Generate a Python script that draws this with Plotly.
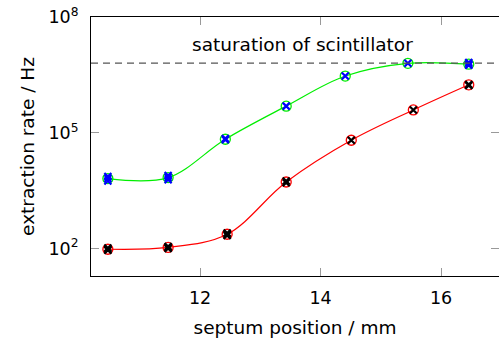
import plotly.graph_objects as go
import numpy as np

# ---- data ----
x_green = [10.47, 11.47, 12.42, 13.43, 14.41, 15.45, 16.46]
y_green = [6500, 6900, 6.8e4, 4.9e5, 2.95e6, 6.3e6, 6.0e6]

x_red = [10.47, 11.47, 12.45, 13.43, 14.51, 15.54, 16.46]
y_red = [96, 107, 235, 5300, 6.4e4, 3.9e5, 1.75e6]

x_blue_meas = [10.47, 10.47, 10.47, 11.47, 11.47, 11.47, 12.42, 12.42, 13.43, 14.41, 15.45, 16.46, 16.46, 16.46]
y_blue_meas = [5600, 6500, 7400, 6100, 6900, 7800, 6.6e4, 7.1e4, 4.9e5, 2.95e6, 6.3e6, 5.6e6, 6.0e6, 6.6e6]

x_black_meas = [10.47, 10.47, 10.47, 11.47, 11.47, 11.47, 12.45, 12.45, 12.45, 13.43, 13.43, 14.51, 15.54, 16.46, 16.46]
y_black_meas = [90, 96, 103, 101, 107, 113, 218, 234, 252, 5100, 5600, 6.4e4, 3.9e5, 1.68e6, 1.78e6]

saturation_level = 6.4e6
saturation_label = "saturation of scintillator"

x_tick_vals = [12, 14, 16]
x_tick_text = ["12", "14", "16"]
y_tick_vals = [1e2, 1e5, 1e8]
y_tick_text = ["10<sup>2</sup>", "10<sup>5</sup>", "10<sup>8</sup>"]

x_title = "septum position / mm"
y_title = "extraction rate / Hz"

# ---- figure ----
FONT = "DejaVu Sans"
fig = go.Figure()

fig.add_hline(y=saturation_level, line=dict(color="#555555", width=1.2, dash="7px,5px"))

fig.add_trace(go.Scatter(x=x_red, y=y_red, mode="lines+markers",
                         line=dict(color="#ff0000", width=1.2, shape="spline", smoothing=1),
                         marker=dict(symbol="circle-open", size=10, color="#ff0000", line=dict(width=1.3)),
                         showlegend=False))
fig.add_trace(go.Scatter(x=x_black_meas, y=y_black_meas, mode="markers",
                         marker=dict(symbol="x-thin", size=7, line=dict(width=2.2, color="#000000")),
                         showlegend=False))
fig.add_trace(go.Scatter(x=x_green, y=y_green, mode="lines+markers",
                         line=dict(color="#00ee00", width=1.2, shape="spline", smoothing=1),
                         marker=dict(symbol="circle-open", size=10, color="#00ee00", line=dict(width=1.3)),
                         showlegend=False))
fig.add_trace(go.Scatter(x=x_blue_meas, y=y_blue_meas, mode="markers",
                         marker=dict(symbol="x-thin", size=7, line=dict(width=2.2, color="#0000ff")),
                         showlegend=False))

fig.add_annotation(text=saturation_label, xref="paper", yref="paper", x=0.518, y=0.892,
                   showarrow=False, font=dict(family=FONT, size=18.5, color="black"),
                   xanchor="center", yanchor="middle")

fig.update_layout(
    width=499, height=340,
    margin=dict(l=91, r=0, t=17, b=64),
    paper_bgcolor="white", plot_bgcolor="white",
    font=dict(family=FONT, size=17.5, color="black"),
)
fig.update_xaxes(range=[10.19, 16.962], tickvals=x_tick_vals, ticktext=x_tick_text,
                 showgrid=False, zeroline=False, showline=True, linecolor="black", linewidth=1,
                 mirror="all", ticks="inside", ticklen=8, tickcolor="#999999", tickwidth=1,
                 ticklabelstandoff=6,
                 title=dict(text=x_title, standoff=14, font=dict(size=18.5)))
fig.update_yaxes(type="log", range=[1.289, 8.0], tickvals=y_tick_vals, ticktext=y_tick_text,
                 showgrid=False, zeroline=False, showline=True, linecolor="black", linewidth=1,
                 mirror="ticks", ticks="inside", ticklen=8, tickcolor="#999999", tickwidth=1,
                 ticklabelstandoff=8,
                 title=dict(text=y_title, standoff=8, font=dict(size=18.5)))

fig.write_html("out.html")
